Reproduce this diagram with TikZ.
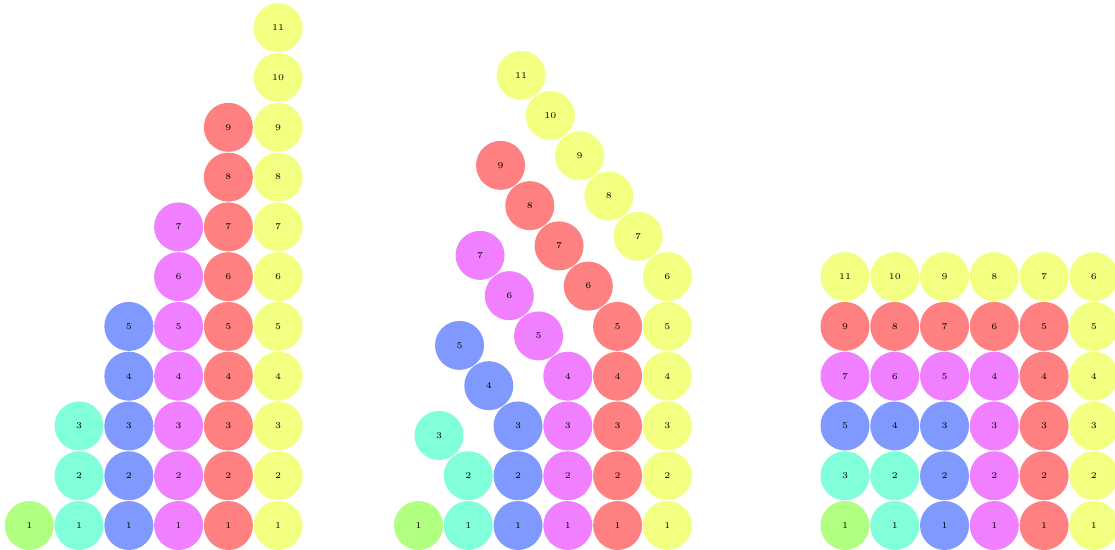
\documentclass[tikz,border=0pt]{standalone}
\usepackage{xcolor}
\usepackage{tikz}

\definecolor{tone0}{HTML}{B0FF80}
\definecolor{tone1}{HTML}{80FFDA}
\definecolor{tone2}{HTML}{8099FF}
\definecolor{tone3}{HTML}{F080FF}
\definecolor{tone4}{HTML}{FF8080}
\definecolor{tone5}{HTML}{F2FF80}

\begin{document}
\begin{tikzpicture}[
  x=0.9954cm, y=0.9954cm,
  every node/.style={font=\fontsize{5}{6}\selectfont},
  ball/.style={
    circle, fill=#1, inner sep=0pt,
    minimum size=0.98cm
  }
]
\useasboundingbox (-0.586cm,-0.49cm) rectangle ++(22.3cm,11cm);

% --- Stacked columns ---
\foreach \lvl in {0,...,5} {
  \pgfmathtruncatemacro\nmax{2*\lvl+1}
  \foreach \num in {1,...,\nmax}
    \node[ball=tone\lvl] (a-\lvl-\num) at (\lvl,\num-1) {\num};
}

% --- Leaning columns ---
\begin{scope}[xshift=7.784cm]
\foreach \lvl in {0,...,5} {
  \pgfmathtruncatemacro\nmax{2*\lvl+1}
  \foreach \num in {1,...,\nmax} {
    \pgfmathsetmacro\tilt{max(0,\num-\lvl-1)}
    \node[ball=tone\lvl] (b-\lvl-\num)
      at ({\lvl-\tilt*sin(36)},{min(\num-1,\lvl)+\tilt*cos(36)}) {\num};
  }
}
\end{scope}

% --- Square grid ---
\begin{scope}[xshift=16.314cm]
\foreach \col in {0,...,5}
  \foreach \row in {0,...,5} {
    \pgfmathtruncatemacro\lvl{max(\col,\row)}
    \pgfmathtruncatemacro\val{ifthenelse(\col>=\row,\row+1,2*\row+1-\col)}
    \node[ball=tone\lvl] (c-\col-\row) at (\col,\row) {\val};
  }
\end{scope}

\end{tikzpicture}
\end{document}
